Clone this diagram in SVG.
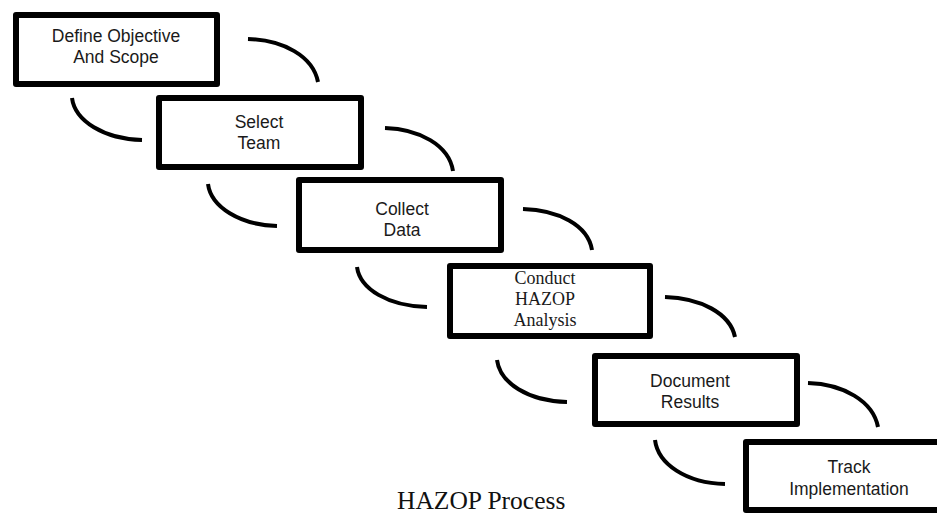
<svg xmlns="http://www.w3.org/2000/svg" width="937" height="515" viewBox="0 0 937 515">
<style>
.box{fill:#fff;stroke:#000;stroke-width:6;stroke-linejoin:round}
.arc{fill:none;stroke:#000;stroke-width:4}
.t{font-family:"Liberation Sans",Arial,sans-serif;font-size:17.5px;fill:#1a1a1a;text-anchor:middle}
.s{font-family:"Liberation Serif","Times New Roman",serif;font-size:18px;fill:#1a1a1a;text-anchor:middle}
.title{font-family:"Liberation Serif","Times New Roman",serif;font-size:25.5px;fill:#111}
</style>
<rect width="937" height="515" fill="#fff"/>
<g id="connectors">
<path class="arc" d="M248,39 C283,40 313,56 318,82"/>
<path class="arc" d="M72,98 C75,121 104,139 142,140"/>
<path class="arc" d="M385,128 C419,129 449,145 453,171"/>
<path class="arc" d="M208,184 C211,207 240,225 277,226"/>
<path class="arc" d="M523,209 C558,210 588,225 592,250"/>
<path class="arc" d="M357,267 C360,289 388,306 427,307"/>
<path class="arc" d="M665,297 C700,298 730,313 735,337"/>
<path class="arc" d="M497,360 C500,383 528,401 567,402"/>
<path class="arc" d="M808,383 C843,384 873,401 878,427"/>
<path class="arc" d="M655,440 C658,464 686,483 725,484"/>
</g>
<g id="n1"><rect class="box" x="16" y="15" width="201" height="69"/><text class="t" x="116" y="42">Define Objective</text><text class="t" x="116" y="63">And Scope</text></g>
<g id="n2"><rect class="box" x="159" y="98" width="202" height="69"/><text class="t" x="259" y="128">Select</text><text class="t" x="259" y="149">Team</text></g>
<g id="n3"><rect class="box" x="299" y="180" width="202" height="70"/><text class="t" x="402" y="215">Collect</text><text class="t" x="402" y="236">Data</text></g>
<g id="n4"><rect class="box" x="450" y="266" width="200" height="70"/><text class="s" x="545" y="284">Conduct</text><text class="s" x="545" y="305">HAZOP</text><text class="s" x="545" y="326">Analysis</text></g>
<g id="n5"><rect class="box" x="595" y="356" width="202" height="68"/><text class="t" x="690" y="387">Document</text><text class="t" x="690" y="408">Results</text></g>
<g id="n6"><rect class="box" x="746" y="442" width="210" height="68"/><text class="t" x="849" y="473">Track</text><text class="t" x="849" y="495">Implementation</text></g>
<text class="title" x="397" y="509">HAZOP Process</text>
</svg>
